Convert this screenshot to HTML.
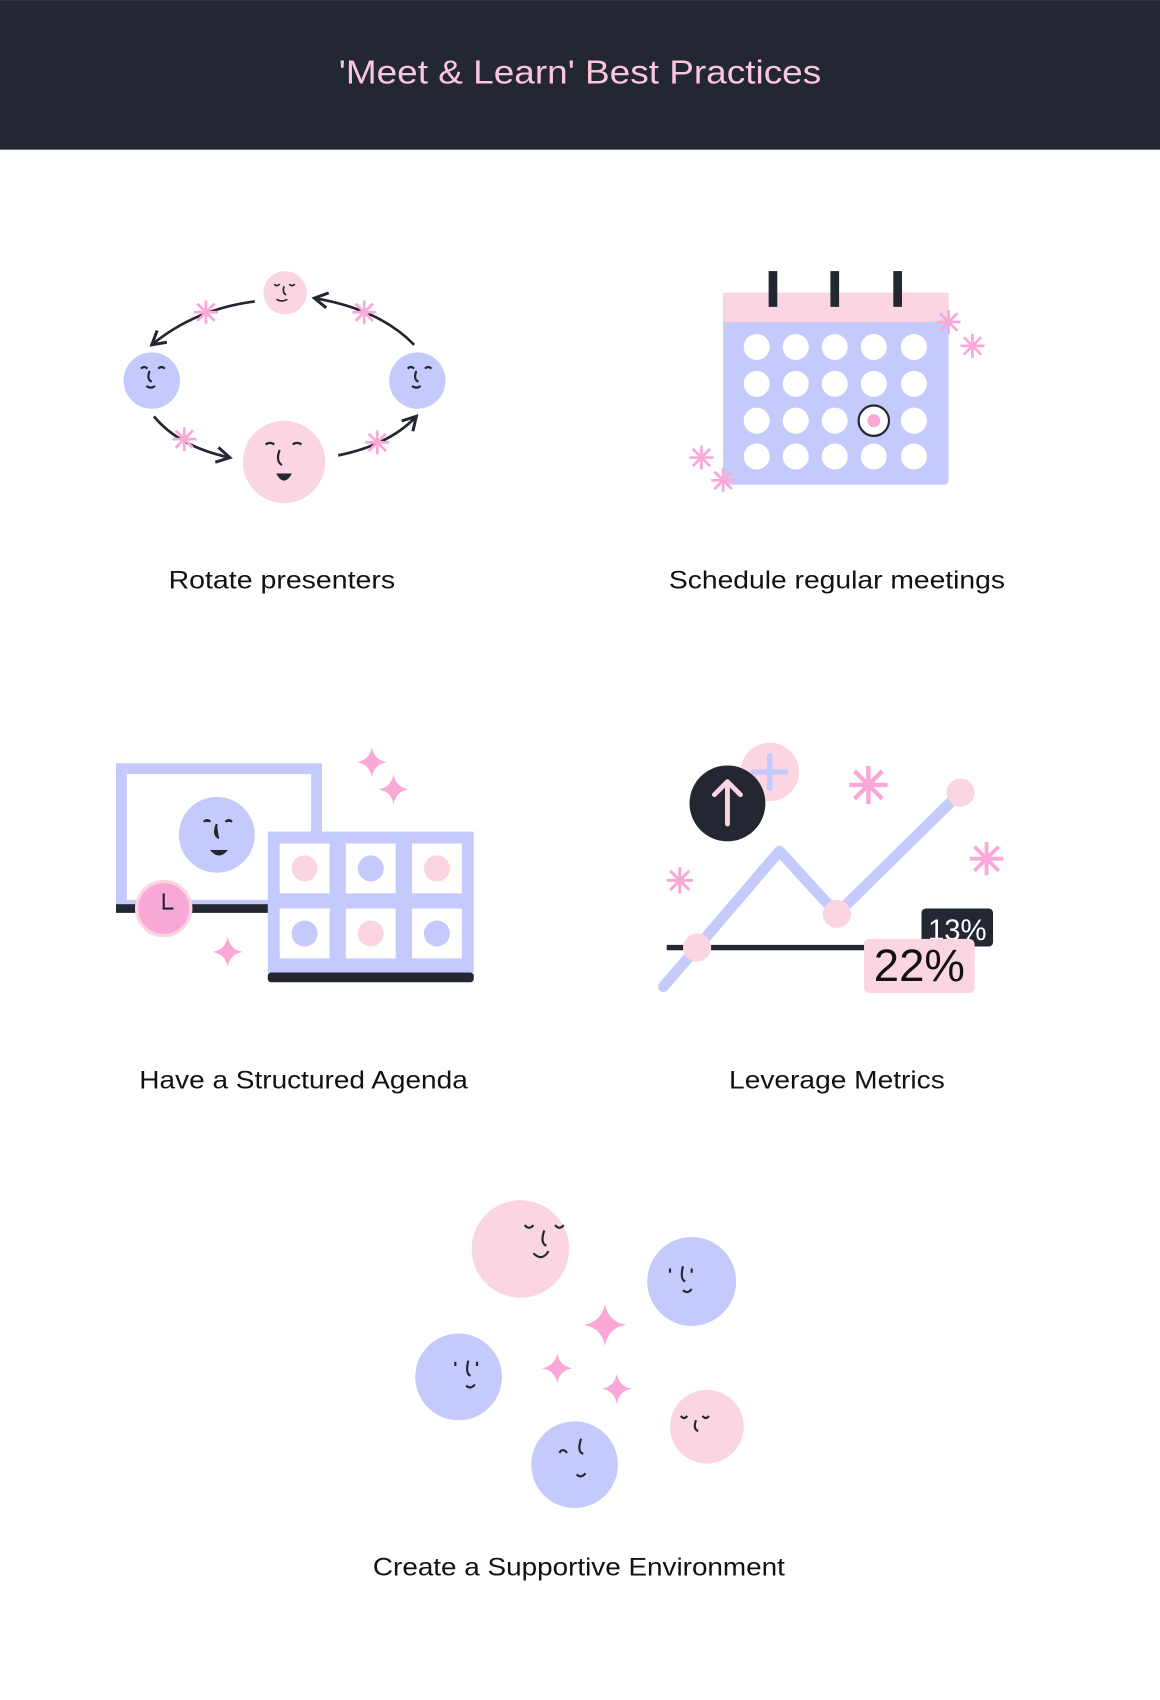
<!DOCTYPE html>
<html><head><meta charset="utf-8"><style>
html,body{margin:0;padding:0;background:#fff}
svg{display:block}
text{font-family:"Liberation Sans",sans-serif}
</style></head><body>
<svg width="1160" height="1700" viewBox="0 0 1070 1568" xmlns="http://www.w3.org/2000/svg">
<defs>
<g id="star"><path d="M0,-14 Q2,-2 14,0 Q2,2 0,14 Q-2,2 -14,0 Q-2,-2 0,-14Z" fill="#f9a8d8"/></g>
<g id="aster" stroke="#f9a8d8" stroke-width="2.5"><line x1="-11" y1="0" x2="11" y2="0"/><line x1="0" y1="-11" x2="0" y2="11"/><line x1="-8" y1="-8" x2="8" y2="8"/><line x1="-8" y1="8" x2="8" y2="-8"/></g>
<marker id="ah" viewBox="0 0 10 10" refX="8" refY="5" markerWidth="7" markerHeight="7" orient="auto"><path d="M1,1 L8,5 L1,9" fill="none" stroke="#222731" stroke-width="1.6"/></marker>
</defs>
<rect x="0" y="0" width="1070" height="138" fill="#222731"/>
<text x="535" y="77" text-anchor="middle" font-size="31" fill="#f9c6dc" textLength="445" lengthAdjust="spacingAndGlyphs">'Meet &amp; Learn' Best Practices</text>

<g fill="none" stroke="#222731" stroke-width="2.5">
<path d="M235,278 Q180,285 140,318" marker-end="url(#ah)"/>
<path d="M382,318 Q350,285 290,275" marker-end="url(#ah)"/>
<path d="M142,384 Q165,412 212,422" marker-end="url(#ah)"/>
<path d="M312,420 Q360,410 384,384" marker-end="url(#ah)"/>
<circle cx="263" cy="270" r="20" fill="#fcd5e3" stroke="none"/>
<circle cx="140" cy="351" r="26" fill="#c5cafc" stroke="none"/>
<circle cx="385" cy="351" r="26" fill="#c5cafc" stroke="none"/>
<circle cx="262" cy="426" r="38" fill="#fcd5e3" stroke="none"/>
<path d="M258,415 q-4,10 2,14 M245,410 q4,-3 8,0 M270,410 q4,-3 8,0" stroke-width="2"/>
<path d="M257,438 q5,8 10,0z" fill="#222731"/>
<path d="M138,342 q-3,8 2,10 M143,356 q-4,3 -8,0 M130,340 q3,-3 6,0 M146,340 q3,-3 6,0" stroke-width="2"/>
<path d="M384,342 q-3,8 2,10 M388,356 q-4,3 -8,0 M376,340 q3,-3 6,0 M392,340 q3,-3 6,0" stroke-width="2"/>
<path d="M262,264 q-2,6 2,8 M255,276 q5,3 10,0 M253,262 q2,3 5,0 M267,262 q2,3 5,0" stroke-width="1.5"/>
</g>
<use href="#aster" x="190" y="288"/><use href="#aster" x="336" y="288"/><use href="#aster" x="170" y="405"/><use href="#aster" x="348" y="408"/>
<text x="260" y="543" text-anchor="middle" font-size="23" fill="#111" textLength="209" lengthAdjust="spacingAndGlyphs">Rotate presenters</text>

<g>
<rect x="667" y="270" width="208" height="177" rx="4" fill="#c5cafc"/>
<rect x="667" y="270" width="208" height="27" fill="#fcd5e3"/>
<rect x="709" y="250" width="8" height="33" fill="#222731"/><rect x="766" y="250" width="8" height="33" fill="#222731"/><rect x="824" y="250" width="8" height="33" fill="#222731"/>
<g fill="#fff">
<circle cx="698" cy="320" r="12"/><circle cx="734" cy="320" r="12"/><circle cx="770" cy="320" r="12"/><circle cx="806" cy="320" r="12"/><circle cx="843" cy="320" r="12"/>
<circle cx="698" cy="354" r="12"/><circle cx="734" cy="354" r="12"/><circle cx="770" cy="354" r="12"/><circle cx="806" cy="354" r="12"/><circle cx="843" cy="354" r="12"/>
<circle cx="698" cy="388" r="12"/><circle cx="734" cy="388" r="12"/><circle cx="770" cy="388" r="12"/><circle cx="806" cy="388" r="14" stroke="#222731" stroke-width="2"/><circle cx="843" cy="388" r="12"/>
<circle cx="698" cy="421" r="12"/><circle cx="734" cy="421" r="12"/><circle cx="770" cy="421" r="12"/><circle cx="806" cy="421" r="12"/><circle cx="843" cy="421" r="12"/>
</g>
<circle cx="806" cy="388" r="6" fill="#f9a8d8"/>
</g>
<use href="#aster" x="875" y="297"/><use href="#aster" x="897" y="319"/><use href="#aster" x="647" y="422"/><use href="#aster" x="667" y="443"/>
<text x="772" y="543" text-anchor="middle" font-size="23" fill="#111" textLength="310" lengthAdjust="spacingAndGlyphs">Schedule regular meetings</text>

<g>
<rect x="112" y="709" width="180" height="126" fill="none" stroke="#c5cafc" stroke-width="10"/>
<rect x="107" y="834" width="190" height="8" fill="#222731"/>
<circle cx="200" cy="770" r="35" fill="#c5cafc"/>
<path d="M200,760 q-4,10 2,13 M196,785 q6,6 12,0z M188,758 q3,-3 6,0 M208,758 q3,-3 6,0" stroke="#222731" stroke-width="2" fill="#222731"/>
<rect x="247" y="767" width="190" height="130" fill="#c5cafc"/>
<rect x="247" y="897" width="190" height="9" rx="3" fill="#222731"/>
<g fill="#fff"><rect x="258" y="778" width="46" height="46"/><rect x="319" y="778" width="46" height="46"/><rect x="380" y="778" width="46" height="46"/><rect x="258" y="838" width="46" height="46"/><rect x="319" y="838" width="46" height="46"/><rect x="380" y="838" width="46" height="46"/></g>
<circle cx="281" cy="801" r="12" fill="#fcd5e3"/><circle cx="342" cy="801" r="12" fill="#c5cafc"/><circle cx="403" cy="801" r="12" fill="#fcd5e3"/>
<circle cx="281" cy="861" r="12" fill="#c5cafc"/><circle cx="342" cy="861" r="12" fill="#fcd5e3"/><circle cx="403" cy="861" r="12" fill="#c5cafc"/>
<circle cx="151" cy="838" r="25" fill="#f9a8d8" stroke="#fcd5e3" stroke-width="3"/>
<path d="M151,824 V838 H160" stroke="#222731" stroke-width="2" fill="none"/>
</g>
<use href="#star" x="343" y="703"/><use href="#star" x="363" y="728"/><use href="#star" x="210" y="878"/>
<text x="280" y="1004" text-anchor="middle" font-size="23" fill="#111" textLength="303" lengthAdjust="spacingAndGlyphs">Have a Structured Agenda</text>

<g>
<circle cx="710" cy="712" r="27" fill="#fcd5e3"/>
<path d="M710,697 V727 M695,712 H725" stroke="#c5cafc" stroke-width="5" stroke-linecap="round"/>
<line x1="615" y1="874" x2="800" y2="874" stroke="#222731" stroke-width="5"/>
<polyline points="612,910 643,874 719,785 772,843 886,731" fill="none" stroke="#c5cafc" stroke-width="10" stroke-linecap="round" stroke-linejoin="round"/>
<circle cx="643" cy="874" r="13" fill="#fcd5e3"/><circle cx="772" cy="843" r="13" fill="#fcd5e3"/><circle cx="886" cy="731" r="13" fill="#fcd5e3"/>
<circle cx="671" cy="741" r="35" fill="#222731"/>
<path d="M671,760 V721 M659,733 L671,721 L683,733" stroke="#fcd5e3" stroke-width="4.5" fill="none" stroke-linecap="round" stroke-linejoin="round"/>
<rect x="850" y="838" width="66" height="35" rx="4" fill="#222731"/>
<text x="883" y="867" text-anchor="middle" font-size="27" fill="#fff">13%</text>
<rect x="797" y="866" width="102" height="50" rx="5" fill="#fcd5e3"/>
<text x="848" y="905" text-anchor="middle" font-size="42" fill="#111">22%</text>
</g>
<g transform="translate(801,724) scale(1.6)"><use href="#aster"/></g>
<g transform="translate(910,792) scale(1.4)"><use href="#aster"/></g>
<g transform="translate(627,812) scale(1.1)"><use href="#aster"/></g>
<text x="772" y="1004" text-anchor="middle" font-size="23" fill="#111" textLength="199" lengthAdjust="spacingAndGlyphs">Leverage Metrics</text>

<g>
<circle cx="480" cy="1152" r="45" fill="#fcd5e3"/>
<circle cx="638" cy="1182" r="41" fill="#c5cafc"/>
<circle cx="423" cy="1270" r="40" fill="#c5cafc"/>
<circle cx="530" cy="1351" r="40" fill="#c5cafc"/>
<circle cx="652" cy="1316" r="34" fill="#fcd5e3"/>
<g stroke="#222731" stroke-width="2" fill="none">
<path d="M484,1130 q4,5 8,0 M512,1130 q4,5 8,0 M502,1135 q-4,12 2,14 M492,1156 q8,8 14,-2"/>
<path d="M630,1168 q-3,12 2,14 M630,1190 q4,4 8,-1 M618,1170 v4 M638,1170 v4"/>
<path d="M432,1255 q-3,12 2,14 M430,1278 q4,4 8,-1 M420,1256 v4 M440,1256 v4"/>
<path d="M536,1327 q-4,12 2,14 M532,1360 q4,4 8,-1 M516,1340 q3,-5 7,0"/>
<path d="M628,1306 q3,4 6,0 M648,1306 q3,4 6,0 M642,1310 q-3,8 2,10"/>
</g>
</g>
<g transform="translate(558,1222) scale(1.4)"><use href="#star"/></g>
<use href="#star" x="514" y="1262"/><use href="#star" x="569" y="1281"/>
<text x="534" y="1453" text-anchor="middle" font-size="23" fill="#111" textLength="380" lengthAdjust="spacingAndGlyphs">Create a Supportive Environment</text>
</svg>
</body></html>
